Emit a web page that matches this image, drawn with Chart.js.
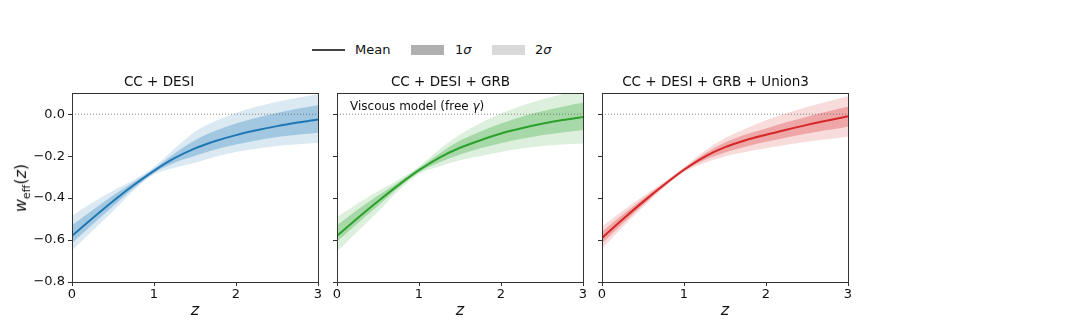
<!DOCTYPE html>
<html>
<head>
<title>w_eff(z) viscous model</title>
<script src="https://cdn.jsdelivr.net/npm/chart.js"></script>
<style>
    body { margin: 0; width: 1080px; height: 331px; background: #fff; position: relative; overflow: hidden;
           font-family: "DejaVu Sans", sans-serif; color: #111; }
    canvas { position: absolute; top: 0; }
    .lab { position: absolute; white-space: nowrap; font-size: 13px; line-height: 14px; }
    .swatch { position: absolute; }
    #ytitle { position: absolute; left: 22px; top: 188px; font-size: 16px; white-space: nowrap;
              transform: translate(-50%, -50%) rotate(-90deg); }
    #note { position: absolute; left: 350px; top: 99px; font-size: 12px; white-space: nowrap; }
</style>
</head>
<body>
    <!-- legend -->
    <div class="swatch" style="left:312px;top:49px;width:33px;height:1.5px;background:#444"></div>
    <div class="lab" style="left:355px;top:43px">Mean</div>
    <div class="swatch" style="left:411px;top:45px;width:33px;height:10px;background:#b0b0b0"></div>
    <div class="lab" style="left:455px;top:43px">1<i>σ</i></div>
    <div class="swatch" style="left:492px;top:45px;width:33px;height:10px;background:#d9d9d9"></div>
    <div class="lab" style="left:535px;top:43px">2<i>σ</i></div>

    <canvas id="c1" width="330" height="331" style="left:0px"></canvas>
    <canvas id="c2" width="277" height="331" style="left:318px"></canvas>
    <canvas id="c3" width="277" height="331" style="left:583px"></canvas>

    <div id="ytitle"><i>w</i><sub style="font-size:11px">eff</sub>(<i>z</i>)</div>
    <div id="note">Viscous model (free <i>γ</i>)</div>

<script>
// redshift grid
var zs = [0, 0.25, 0.5, 0.75, 1, 1.25, 1.5, 1.75, 2, 2.25, 2.5, 2.75, 3];

// CC + DESI
var meanA = [-0.58, -0.496, -0.415, -0.339, -0.27, -0.21, -0.163, -0.128, -0.1, -0.077, -0.057, -0.04, -0.025];
var s1loA = [-0.614, -0.526, -0.439, -0.353, -0.28, -0.232, -0.198, -0.168, -0.144, -0.125, -0.109, -0.098, -0.089];
var s1hiA = [-0.53, -0.458, -0.388, -0.325, -0.26, -0.188, -0.124, -0.079, -0.044, -0.017, 0.006, 0.026, 0.043];
var s2loA = [-0.65, -0.556, -0.463, -0.364, -0.288, -0.255, -0.231, -0.203, -0.18, -0.165, -0.152, -0.143, -0.136];
var s2hiA = [-0.485, -0.421, -0.365, -0.314, -0.252, -0.165, -0.084, -0.033, 0.006, 0.035, 0.059, 0.078, 0.095];

// CC + DESI + GRB
var meanB = [-0.58, -0.496, -0.415, -0.338, -0.267, -0.207, -0.16, -0.124, -0.092, -0.067, -0.046, -0.028, -0.013];
var s1loB = [-0.607, -0.521, -0.437, -0.351, -0.277, -0.229, -0.192, -0.163, -0.138, -0.117, -0.1, -0.087, -0.076];
var s1hiB = [-0.53, -0.456, -0.388, -0.324, -0.257, -0.187, -0.126, -0.082, -0.044, -0.012, 0.014, 0.036, 0.054];
var s2loB = [-0.655, -0.559, -0.465, -0.364, -0.285, -0.249, -0.22, -0.199, -0.18, -0.164, -0.152, -0.145, -0.14];
var s2hiB = [-0.49, -0.426, -0.367, -0.313, -0.249, -0.167, -0.097, -0.042, 0.003, 0.04, 0.07, 0.095, 0.115];

// CC + DESI + GRB + Union3
var meanC = [-0.59, -0.502, -0.418, -0.339, -0.265, -0.203, -0.157, -0.124, -0.098, -0.074, -0.051, -0.03, -0.01];
var s1loC = [-0.615, -0.522, -0.433, -0.347, -0.272, -0.219, -0.183, -0.155, -0.132, -0.111, -0.092, -0.076, -0.06];
var s1hiC = [-0.56, -0.48, -0.403, -0.331, -0.258, -0.189, -0.135, -0.097, -0.068, -0.039, -0.012, 0.013, 0.035];
var s2loC = [-0.64, -0.539, -0.443, -0.352, -0.277, -0.233, -0.202, -0.18, -0.163, -0.146, -0.131, -0.12, -0.108];
var s2hiC = [-0.535, -0.462, -0.391, -0.325, -0.253, -0.175, -0.113, -0.069, -0.029, 0.004, 0.034, 0.061, 0.086];

var xTicks = [0, 1, 2, 3];
var yTicks = [-0.8, -0.6, -0.4, -0.2, 0.0];

Chart.defaults.font.family = '"DejaVu Sans", sans-serif';
Chart.defaults.color = '#111';

function pts(arr) {
    return zs.map(function (z, i) { return { x: z, y: arr[i] }; });
}

// box round the plot area, like matplotlib spines
var frame = {
    id: 'frame',
    afterDraw: function (chart) {
        var a = chart.chartArea, c = chart.ctx;
        c.save();
        c.strokeStyle = '#333';
        c.lineWidth = 1;
        c.strokeRect(Math.round(a.left) + 0.5, Math.round(a.top) + 0.5,
                     Math.round(a.right - a.left), Math.round(a.bottom - a.top));
        c.restore();
    }
};

function makePanel(id, title, rgb, mean, s1lo, s1hi, s2lo, s2hi, showY) {
    var col = 'rgb(' + rgb + ')';
    var line = { borderWidth: 0, pointRadius: 0, cubicInterpolationMode: 'monotone' };
    return new Chart(document.getElementById(id), {
        type: 'line',
        data: {
            datasets: [
                Object.assign({ data: pts(s2hi), fill: '+1', backgroundColor: 'rgba(' + rgb + ',0.16)', order: 4 }, line),
                Object.assign({ data: pts(s2lo), fill: false, order: 4 }, line),
                Object.assign({ data: pts(s1hi), fill: '+1', backgroundColor: 'rgba(' + rgb + ',0.30)', order: 2 }, line),
                Object.assign({ data: pts(s1lo), fill: false, order: 2 }, line),
                { data: [{ x: 0, y: 0 }, { x: 3, y: 0 }], borderColor: '#666', borderWidth: 0.8,
                  borderDash: [1, 2], pointRadius: 0, fill: false, order: 1 },
                { data: pts(mean), borderColor: col, borderWidth: 2, pointRadius: 0, fill: false,
                  cubicInterpolationMode: 'monotone', order: 0 }
            ]
        },
        options: {
            responsive: false,
            animation: false,
            devicePixelRatio: 1,
            layout: { padding: { left: 0, right: 12, top: 0, bottom: 0 } },
            plugins: {
                legend: { display: false },
                tooltip: { enabled: false },
                title: { display: true, text: title, font: { size: 13.5, weight: 'normal' },
                         color: '#111', padding: { top: 74, bottom: 3 } }
            },
            scales: {
                x: {
                    type: 'linear', min: 0, max: 3,
                    afterBuildTicks: function (s) { s.ticks = xTicks.map(function (v) { return { value: v }; }); },
                    grid: { display: true, drawOnChartArea: false, drawTicks: true, tickLength: 4, color: '#333' },
                    border: { display: false },
                    ticks: { font: { size: 13 }, color: '#111', padding: 1, maxRotation: 0 },
                    title: { display: true, text: 'z', font: { size: 16, style: 'italic' }, color: '#111',
                             padding: { top: 0, bottom: 11 } },
                    afterFit: function (s) { s.height = 49; }
                },
                y: {
                    min: -0.8, max: 0.1,
                    afterBuildTicks: function (s) { s.ticks = yTicks.map(function (v) { return { value: v }; }); },
                    grid: { display: true, drawOnChartArea: false, drawTicks: true, tickLength: 4, color: '#333' },
                    border: { display: false },
                    ticks: {
                        font: { size: 13 }, color: '#111', padding: 3,
                        callback: function (v) {
                            if (!showY) return '';
                            if (Math.abs(v) < 1e-9) return '0.0';
                            return v.toFixed(1).replace('-', '\u2212');
                        }
                    },
                    afterFit: function (s) { s.width = showY ? 72 : 19; }
                }
            }
        },
        plugins: [frame]
    });
}

makePanel('c1', 'CC + DESI', '31,119,180', meanA, s1loA, s1hiA, s2loA, s2hiA, true);
makePanel('c2', 'CC + DESI + GRB', '44,160,44', meanB, s1loB, s1hiB, s2loB, s2hiB, false);
makePanel('c3', 'CC + DESI + GRB + Union3', '214,39,40', meanC, s1loC, s1hiC, s2loC, s2hiC, false);
</script>
</body>
</html>
